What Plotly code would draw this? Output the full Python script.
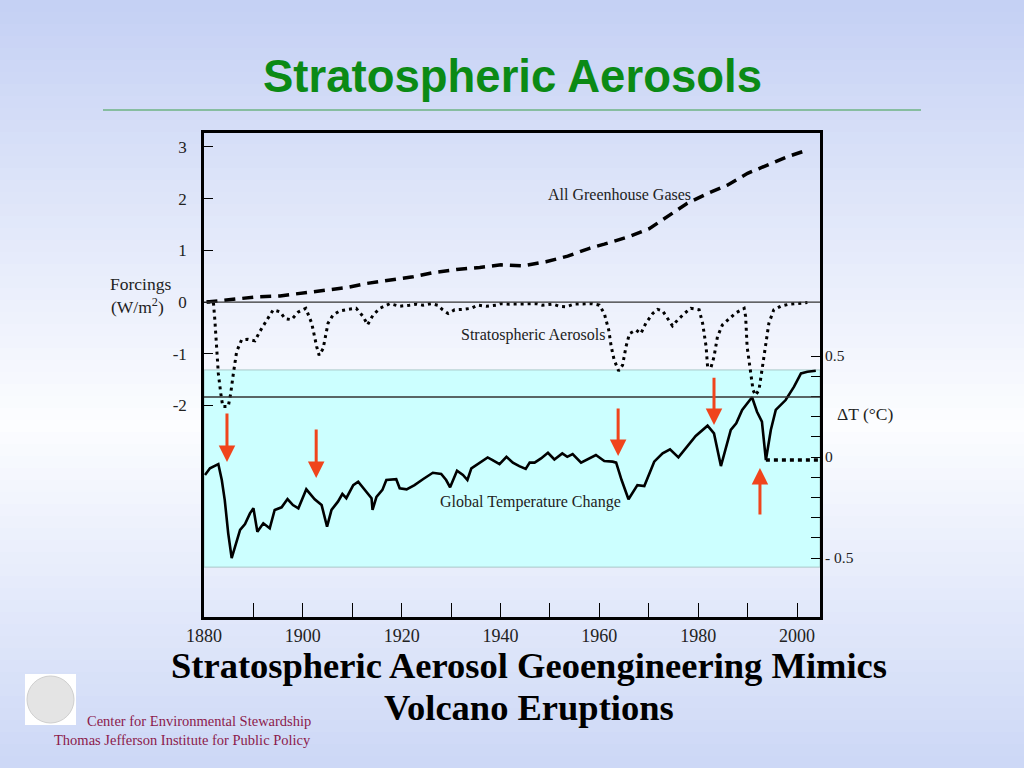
import plotly.graph_objects as go

# forcing curves (W/m2)
ghg_years = [1880.5, 1885.9, 1890.6, 1895.4, 1900.1, 1904.8, 1908.8, 1912.9, 1917.6,
             1922.3, 1926.3, 1931.1, 1935.8, 1940.1, 1944.5, 1949.2, 1953.6, 1958.0,
             1961.0, 1966.1, 1970.1, 1974.1, 1977.8, 1981.9, 1985.9, 1990.0, 1994.0,
             1998.0, 2002.1]
ghg_forcing = [0.0, 0.06, 0.10, 0.12, 0.18, 0.23, 0.28, 0.36, 0.42,
               0.49, 0.57, 0.63, 0.67, 0.72, 0.70, 0.78, 0.89, 1.04,
               1.12, 1.27, 1.42, 1.68, 1.91, 2.10, 2.26, 2.49, 2.65,
               2.81, 2.94]

aer_years = [1880.6, 1881.9, 1882.2, 1882.6, 1882.9, 1883.4, 1883.8, 1884.9, 1885.4,
             1885.9, 1886.6, 1887.6, 1888.9, 1890.3, 1891.3, 1892.7, 1894.0, 1895.4,
             1896.4, 1897.7, 1899.1, 1900.6, 1901.8, 1902.8, 1903.3, 1904.1, 1905.1,
             1906.1, 1907.5, 1909.2, 1910.8, 1912.2, 1913.1, 1914.2, 1915.6, 1917.6,
             1919.6, 1921.6, 1923.0, 1924.3, 1926.0, 1927.3, 1928.3, 1929.4, 1930.7,
             1932.4, 1934.1, 1935.4, 1937.1, 1939.1, 1940.1, 1941.8, 1943.5, 1945.2,
             1947.2, 1948.5, 1950.6, 1951.9, 1953.3, 1954.9, 1956.9, 1958.6, 1960.0,
             1961.0, 1961.9, 1962.4, 1963.0, 1963.9, 1964.7, 1965.4, 1966.1, 1967.4,
             1968.4, 1969.4, 1970.8, 1971.8, 1972.8, 1973.8, 1974.8, 1975.8, 1977.2,
             1978.5, 1980.2, 1980.9, 1981.6, 1981.9, 1982.6, 1983.2, 1983.9, 1984.9,
             1986.2, 1987.6, 1989.3, 1989.6, 1989.9, 1990.6, 1991.1, 1991.6, 1992.3,
             1992.9, 1993.6, 1994.3, 1995.3, 1996.7, 1998.4, 2000.4, 2002.1]
aer_forcing = [0.0, 0.0, -0.35, -0.86, -1.38, -1.77, -2.02, -2.02, -1.77,
               -1.41, -0.96, -0.73, -0.72, -0.75, -0.57, -0.35, -0.15, -0.19,
               -0.32, -0.34, -0.19, -0.12, -0.41, -0.86, -1.03, -0.90, -0.41,
               -0.25, -0.17, -0.14, -0.12, -0.28, -0.44, -0.25, -0.12, -0.03,
               -0.08, -0.06, -0.04, -0.06, -0.03, -0.06, -0.15, -0.22, -0.15,
               -0.14, -0.12, -0.06, -0.08, -0.06, -0.03, -0.04, -0.04, -0.03,
               -0.03, -0.06, -0.04, -0.08, -0.09, -0.04, -0.03, -0.03, -0.06,
               -0.22, -0.54, -0.86, -1.12, -1.33, -1.22, -0.86, -0.61, -0.54,
               -0.61, -0.41, -0.22, -0.14, -0.17, -0.32, -0.46, -0.35, -0.22,
               -0.12, -0.15, -0.41, -0.86, -1.25, -1.26, -1.06, -0.67, -0.44,
               -0.32, -0.21, -0.12, -0.28, -0.86, -1.38, -1.70, -1.80, -1.70,
               -1.32, -0.86, -0.41, -0.15, -0.08, -0.04, -0.03, -0.01]

# global temperature change (deg C)
temp_years = [1880.2, 1881.2, 1882.9, 1883.6, 1884.2, 1884.9, 1885.6, 1886.3, 1887.3,
              1888.3, 1889.3, 1890.0, 1890.8, 1892.0, 1893.3, 1894.3, 1895.7, 1896.9,
              1898.0, 1899.1, 1900.7, 1902.4, 1903.8, 1904.9, 1905.8, 1907.1, 1908.0,
              1908.8, 1910.2, 1911.2, 1912.9, 1913.9, 1914.1, 1914.9, 1916.1, 1916.9,
              1918.9, 1919.6, 1921.0, 1922.6, 1924.3, 1926.3, 1928.0, 1929.0, 1929.8,
              1931.2, 1932.4, 1933.3, 1934.1, 1935.8, 1937.4, 1938.4, 1939.8, 1941.2,
              1942.5, 1943.8, 1945.1, 1945.9, 1946.9, 1948.2, 1949.6, 1950.9, 1952.5,
              1953.5, 1954.6, 1956.3, 1957.6, 1959.3, 1961.0, 1962.7, 1963.4, 1964.5,
              1965.9, 1967.7, 1969.1, 1971.1, 1972.8, 1974.3, 1976.0, 1977.5, 1979.5,
              1981.9, 1983.2, 1984.6, 1985.6, 1986.6, 1987.7, 1988.9, 1990.9, 1991.9,
              1992.9, 1993.7, 1994.7, 1995.7, 1997.7, 1999.4, 2000.8, 2002.1, 2003.8]
temp_change = [-0.089, -0.056, -0.035, -0.114, -0.213, -0.378, -0.50, -0.444, -0.361,
               -0.332, -0.279, -0.254, -0.37, -0.328, -0.353, -0.262, -0.249, -0.208,
               -0.238, -0.254, -0.16, -0.209, -0.238, -0.345, -0.262, -0.221, -0.183,
               -0.204, -0.139, -0.122, -0.172, -0.204, -0.262, -0.197, -0.163, -0.114,
               -0.11, -0.155, -0.16, -0.139, -0.11, -0.078, -0.084, -0.114, -0.15,
               -0.068, -0.089, -0.114, -0.056, -0.028, -0.002, -0.015, -0.035, 0.001,
               -0.028, -0.045, -0.059, -0.028, -0.028, -0.007, 0.021, -0.012, 0.018,
               0.001, 0.015, -0.028, -0.012, 0.01, -0.02, -0.023, -0.028, -0.114,
               -0.209, -0.139, -0.144, -0.023, 0.018, 0.038, -0.002, 0.043, 0.104,
               0.155, 0.117, -0.045, 0.051, 0.134, 0.167, 0.233, 0.296, 0.224,
               0.175, -0.015, 0.134, 0.233, 0.282, 0.348, 0.414, 0.422, 0.427]

# flat dotted continuation after the last eruption
proj_years = [1993.7, 2004.4]
proj_change = [-0.015, -0.015]

# eruption arrows: year, tail and head (deg C)
arrow_years = [1884.65, 1902.7, 1963.8, 1983.2, 1992.5]
arrow_tail = [0.223, 0.144, 0.248, 0.40, -0.292]
arrow_head = [-0.025, -0.104, 0.005, 0.158, -0.054]

x_ticks = [1880, 1900, 1920, 1940, 1960, 1980, 2000]
forcing_ticks = [-2, -1, 0, 1, 2, 3]
dt_ticks = [0.5, 0.4, 0.3, 0.2, 0.1, 0.0, -0.1, -0.2, -0.3, -0.4, -0.5]
dt_labels = ["0.5", "", "", "", "", "0", "", "", "", "", "- 0.5"]

W, H = 1024, 768
SERIF = "Liberation Serif"


def px_x(p):
    return p / W


def px_y(p):
    return 1 - p / H


def mix(c1, c2, t):
    return "rgb(%d,%d,%d)" % tuple(round(a + (b - a) * t) for a, b in zip(c1, c2))


fig = go.Figure()

fig.add_trace(go.Scatter(x=ghg_years, y=ghg_forcing, mode="lines",
                         line=dict(color="black", width=3.5, dash="11px,7px")))
fig.add_trace(go.Scatter(x=aer_years, y=aer_forcing, mode="lines",
                         line=dict(color="black", width=3, dash="3px,4px")))
fig.add_trace(go.Scatter(x=temp_years, y=temp_change, mode="lines", yaxis="y2",
                         line=dict(color="black", width=2.6)))
fig.add_trace(go.Scatter(x=proj_years, y=proj_change, mode="lines", yaxis="y2",
                         line=dict(color="black", width=3.5, dash="4px,4px")))

# slide background: vertical blue-white-blue gradient drawn as thin bands
shapes = []
top_c, mid_c, bot_c = (196, 208, 244), (252, 253, 255), (204, 215, 246)
n = 64
for i in range(n):
    t = (i + 0.5) / n
    c = mix(top_c, mid_c, t / 0.55) if t < 0.55 else mix(mid_c, bot_c, (t - 0.55) / 0.45)
    shapes.append(dict(type="rect", xref="paper", yref="paper", x0=0, x1=1,
                       y0=1 - (i + 1) / n - 0.002, y1=1 - i / n, fillcolor=c,
                       line=dict(width=0), layer="below"))

# cyan temperature panel and reference lines
shapes.append(dict(type="rect", xref="x", yref="y2", x0=1880, x1=2004.65, y0=-0.545, y1=0.431,
                   fillcolor="#ccffff", line=dict(color="#a8c8c8", width=1), layer="below"))
shapes.append(dict(type="line", xref="x", yref="y", x0=1880, x1=2004.65, y0=0, y1=0,
                   line=dict(color="#333333", width=1.3)))
shapes.append(dict(type="line", xref="x", yref="y2", x0=1880, x1=2004.65, y0=0.297, y1=0.297,
                   line=dict(color="#333333", width=1.3)))

# title rule
shapes.append(dict(type="line", xref="paper", yref="paper", x0=px_x(103), x1=px_x(921),
                   y0=px_y(110), y1=px_y(110), line=dict(color="#3a9e4a", width=1)))

# logo placeholder
shapes.append(dict(type="rect", xref="paper", yref="paper", x0=px_x(25), x1=px_x(76),
                   y0=px_y(725), y1=px_y(674), fillcolor="white", line=dict(width=0)))
shapes.append(dict(type="circle", xref="paper", yref="paper", x0=px_x(27), x1=px_x(74),
                   y0=px_y(723), y1=px_y(676), fillcolor="#e4e4e4",
                   line=dict(color="#cfcfcf", width=1)))

annotations = []


def note(text, x, y, size=16, color="#222222", family=SERIF, xanchor="center", bold=False):
    if bold:
        text = "<b>" + text + "</b>"
    annotations.append(dict(text=text, x=px_x(x), y=px_y(y), xref="paper", yref="paper",
                            showarrow=False, xanchor=xanchor, yanchor="middle",
                            font=dict(family=family, size=size, color=color)))


note("Stratospheric Aerosols", 512, 77, size=45.5, color="#0b8a15",
     family="Liberation Sans", bold=True)
note("All Greenhouse Gases", 619, 194)
note("Stratospheric Aerosols", 533, 335)
note("Global Temperature Change", 530, 502)
note("Forcings", 140, 284, size=17.5)
note("(W/m<sup>2</sup>)", 137, 306, size=17.5)
note("ΔT (°C)", 865, 414, size=17.5)
note("Stratospheric Aerosol Geoengineering Mimics", 529, 665, size=36.5, color="black", bold=True)
note("Volcano Eruptions", 529, 707, size=36.5, color="black", bold=True)
note("Center for Environmental Stewardship", 313, 721, size=14.5, color="#8c1a4b",
     xanchor="right")
note("Thomas Jefferson Institute for Public Policy", 313, 740, size=14.5, color="#8c1a4b",
     xanchor="right")

for yr, tail, head in zip(arrow_years, arrow_tail, arrow_head):
    annotations.append(dict(x=yr, y=head, ax=yr, ay=tail, xref="x", yref="y2",
                            axref="x", ayref="y2", text="", showarrow=True,
                            arrowhead=2, arrowsize=1.1, arrowwidth=3, arrowcolor="#f0441c"))

fig.update_layout(
    width=W, height=H,
    margin=dict(l=0, r=0, t=0, b=0, autoexpand=False),
    paper_bgcolor="#eef2fc",
    plot_bgcolor="rgba(0,0,0,0)",
    showlegend=False,
    shapes=shapes,
    annotations=annotations,
    xaxis=dict(domain=[px_x(204), px_x(820)], range=[1880, 2004.65], automargin=False,
               tickvals=x_ticks, ticktext=[str(v) for v in x_ticks],
               ticks="inside", ticklen=14, tickwidth=1.3, tickcolor="black",
               minor=dict(dtick=10, tick0=1880, ticks="inside", ticklen=14,
                          tickwidth=1.3, tickcolor="black"),
               showline=True, linewidth=2.5, linecolor="black", mirror=True,
               showgrid=False, zeroline=False, ticklabelstandoff=1,
               tickfont=dict(family=SERIF, size=18, color="#222222")),
    yaxis=dict(domain=[px_y(617), px_y(133)], range=[-6.09, 3.27], automargin=False,
               tickvals=forcing_ticks, ticktext=[str(v) for v in forcing_ticks],
               ticks="inside", ticklen=9, tickwidth=1.3, tickcolor="black",
               showline=True, linewidth=2.5, linecolor="black", mirror=True,
               showgrid=False, zeroline=False, ticklabelstandoff=11,
               tickfont=dict(family=SERIF, size=17, color="#222222")),
    yaxis2=dict(overlaying="y", side="right", anchor="x", range=[-0.792, 1.604],
                automargin=False, tickvals=dt_ticks, ticktext=dt_labels,
                ticks="inside", ticklen=9, tickwidth=1.3, tickcolor="black",
                showgrid=False, zeroline=False, showline=False, ticklabelstandoff=4,
                tickfont=dict(family=SERIF, size=15.5, color="#222222")),
)

# page margin would push the 1024x768 figure off the window
fig.write_html("out.html", config={"displayModeBar": False},
               post_script="document.body.style.margin='0';document.body.style.overflow='hidden';")
